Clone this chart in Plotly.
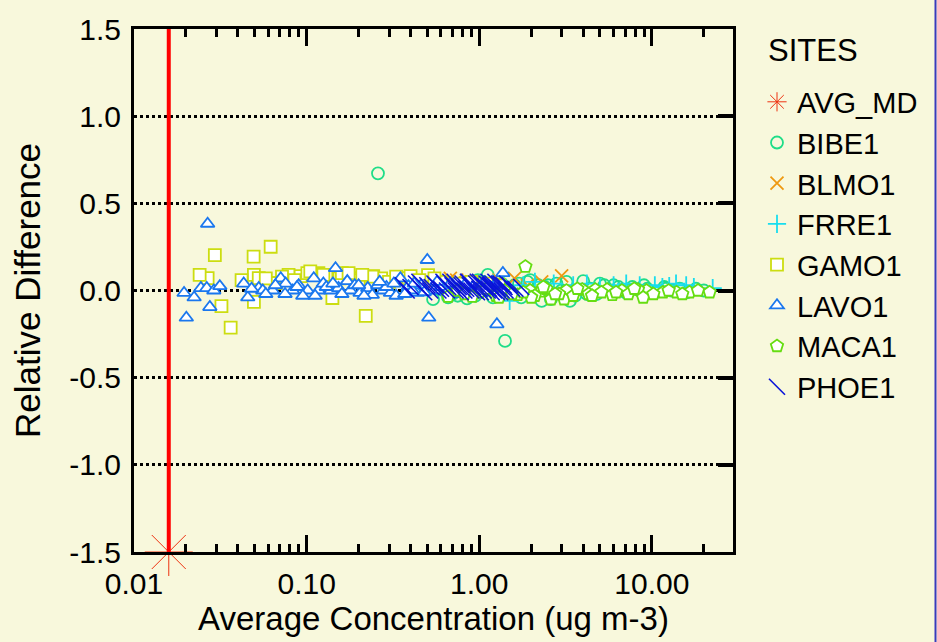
import plotly.graph_objects as go

# ---------------- data ----------------
avg_md_x = [0.0159]
avg_md_y = [-1.5]
mdl_line_y = [-1.5, 1.5]

bibe_x = [0.259, 1.41, 0.54, 0.62, 0.7, 0.8, 0.88, 0.95, 1.05, 1.12, 1.15, 1.25, 1.35, 1.5, 1.6,
          1.75, 1.9, 1.97, 2.05, 2.2, 2.4, 2.6, 2.8, 3.0, 3.35, 3.6, 4.0, 4.4, 4.8, 5.3, 5.8,
          6.4, 7.0, 7.7, 8.5, 9.4, 10.5, 11.8, 13.0, 14.5, 16.0, 18.0, 20.0, 2.3, 1.2, 0.66, 0.85,
          0.58, 0.75, 0.98, 1.3, 1.7, 2.5, 3.2, 4.2, 5.0, 6.0, 7.3, 9.0, 12.0]
bibe_y = [0.672, -0.289, -0.05, 0.03, -0.02, 0.04, 0.01, -0.03, 0.05, 0.09, 0.02, -0.02, 0.04, 0.0, 0.03,
          -0.04, 0.05, 0.06, -0.01, 0.03, 0.02, -0.05, 0.04, 0.0, -0.06, -0.03, 0.054, 0.01, -0.02, 0.03, 0.0,
          0.02, -0.01, 0.02, 0.0, 0.01, -0.01, 0.02, 0.0, 0.01, -0.01, 0.01, 0.0, -0.06, -0.04, -0.04, -0.045,
          0.01, -0.03, 0.06, 0.05, 0.04, 0.03, 0.05, -0.02, 0.04, 0.03, 0.0, 0.03, 0.01]

blmo_x = [3.0, 0.68, 0.74, 0.9, 1.1, 1.3, 1.6, 1.9, 2.3, 0.55]
blmo_y = [0.084, 0.07, 0.06, 0.05, 0.04, 0.06, 0.07, 0.03, 0.05, 0.05]

frre_x = [22.5, 15.8, 12.6, 10.4, 8.5, 7.1, 1.5, 6.0, 5.0, 4.2, 3.5, 2.7, 2.1, 1.8, 1.2, 17.5, 13.8, 11.5]
frre_y = [0.014, 0.03, 0.025, 0.03, 0.03, 0.04, -0.06, 0.03, 0.02, 0.04, 0.03, 0.04, 0.05, 0.03, 0.04, 0.02, 0.04, 0.02]

gamo_x = [0.0267, 0.0294, 0.0321, 0.0363, 0.0493, 0.0495, 0.0495, 0.0528, 0.0619, 0.0662, 0.0786,
          0.0923, 0.101, 0.117, 0.141, 0.186, 0.22, 0.243, 0.363, 0.40, 0.505, 0.024, 0.042, 0.058,
          0.072, 0.085, 0.13, 0.155, 0.2, 0.27, 0.3, 0.45, 0.6, 0.75, 0.9, 1.1, 1.3, 0.16, 0.24,
          0.105, 0.125, 0.175, 0.21, 0.33, 0.55]
gamo_y = [0.071, 0.203, -0.09, -0.213, 0.194, 0.09, -0.065, 0.071, 0.251, 0.043, 0.09,
          0.082, 0.1, 0.1, -0.043, 0.071, -0.145, 0.082, 0.071, 0.082, 0.088, 0.09, 0.06, 0.07,
          0.08, 0.06, 0.09, 0.07, 0.06, 0.07, 0.05, 0.06, 0.05, 0.04, 0.05, 0.04, 0.03, 0.1, 0.08,
          0.11, 0.09, 0.1, 0.09, 0.08, 0.07]

lavo_x = [0.0195, 0.0201, 0.0223, 0.0244, 0.0264, 0.0267, 0.0275, 0.029, 0.0314, 0.0432, 0.0456,
          0.0528, 0.0557, 0.0636, 0.0708, 0.0756, 0.0831, 0.0899, 0.1014, 0.110, 0.117, 0.125,
          0.138, 0.147, 0.153, 0.172, 0.179, 0.204, 0.226, 0.258, 0.278, 0.306, 0.349, 0.388,
          0.389, 0.437, 0.50, 0.51, 0.46, 0.55, 0.60, 0.65, 0.70, 0.78, 0.85, 0.92, 1.0, 1.08,
          1.15, 1.265, 1.37, 1.45, 0.058, 0.066, 0.095, 0.13, 0.16, 0.19, 0.24, 0.29, 0.33, 0.41,
          0.048, 0.075, 0.088, 0.112, 0.142, 0.2, 0.215, 0.265, 0.32, 0.37, 0.42, 0.48, 0.57,
          0.68, 0.74, 0.82, 0.96, 1.05, 1.2, 1.3]
lavo_y = [-0.014, -0.156, -0.04, 0.014, 0.014, 0.383, -0.095, 0.0, 0.025, 0.04, -0.04,
          0.014, 0.0, 0.0, 0.07, 0.04, 0.0, 0.03, 0.0, 0.07, 0.0, 0.04,
          0.0, 0.128, 0.014, 0.054, 0.0, -0.014, 0.014, 0.03, 0.0, -0.014, 0.07, 0.014,
          0.025, -0.014, 0.175, -0.156, 0.03, 0.0, 0.02, -0.01, 0.03, 0.01, -0.02, 0.02, 0.0, 0.03,
          -0.01, -0.194, 0.1, 0.01, -0.02, 0.03, -0.03, 0.02, -0.02, 0.03, -0.025, 0.02, -0.03, 0.0,
          0.01, -0.02, 0.02, -0.03, 0.04, 0.03, -0.03, 0.05, 0.04, -0.02, 0.04, -0.01, 0.05,
          0.04, -0.02, 0.03, -0.02, 0.04, 0.02, -0.01]

maca_x = [1.85, 21.6, 16.5, 13.9, 11.6, 9.3, 8.3, 6.7, 5.5, 4.7, 3.95, 3.2, 3.1, 2.6, 2.25, 1.97,
          1.67, 1.0, 0.91, 0.66, 8.9, 5.9, 0.75, 0.82, 1.1, 1.25, 1.4, 1.55, 2.1, 2.45, 2.9, 3.5,
          4.3, 5.1, 7.3, 10.2, 12.5, 15.0, 18.5, 7.9, 2.0, 2.75, 3.7, 4.5, 6.2, 1.8, 1.3, 2.35]
maca_y = [0.137, -0.01, -0.01, -0.01, -0.01, 0.0, 0.005, 0.0, 0.005, 0.005, 0.005, 0.0, -0.05, -0.05, -0.005, 0.0,
          -0.025, -0.01, -0.035, -0.035, -0.04, -0.025, 0.0, -0.02, 0.01, -0.03, 0.0, -0.02, -0.03, 0.01, -0.02, -0.03,
          -0.02, -0.01, -0.02, -0.02, 0.0, -0.02, 0.0, 0.01, -0.04, -0.02, 0.01, -0.03, -0.01, -0.01, -0.04, 0.02]

phoe_x = [0.36, 0.4, 0.43, 0.46, 0.5, 0.53, 0.56, 0.6, 0.63, 0.66, 0.7, 0.73, 0.76, 0.8, 0.84, 0.88,
          0.92, 0.96, 1.0, 1.04, 1.08, 1.12, 1.16, 1.2, 1.25, 1.3, 1.35, 1.4, 1.5, 1.62, 1.75, 0.48,
          0.58, 0.68, 0.78, 0.9, 1.02, 1.14, 1.22, 1.32, 0.98, 1.1, 1.18, 1.28, 1.38, 0.86,
          0.38, 0.45, 0.52, 0.55, 0.62, 0.65, 0.72, 0.75, 0.82, 0.87, 0.94, 1.01, 1.06, 1.13,
          1.19, 1.24, 1.27, 1.33, 1.42, 1.45, 1.55, 0.79, 0.97, 1.09, 1.15]
phoe_y = [0.03, 0.02, 0.04, 0.01, 0.03, 0.02, 0.03, 0.01, 0.04, 0.02, 0.03, 0.0, 0.02, 0.04, 0.01, 0.03,
          0.02, 0.04, 0.01, 0.03, 0.02, 0.0, 0.03, 0.01, 0.02, 0.04, 0.0, 0.02, 0.03, 0.01, 0.02, -0.01,
          0.0, 0.05, -0.01, 0.0, -0.01, 0.01, 0.0, -0.01, 0.05, 0.04, -0.01, 0.01, 0.03, 0.05,
          0.0, 0.05, 0.0, 0.04, 0.05, 0.0, 0.05, 0.01, 0.0, 0.05, 0.0, 0.05, 0.0, 0.05,
          0.04, 0.05, -0.01, 0.04, 0.0, 0.04, 0.01, 0.03, -0.01, 0.02, 0.03]

x_tickvals = [0.01, 0.1, 1, 10]
x_ticktext = ["0.01", "0.10", "1.00", "10.00"]
x_minor_tickvals = [0.02, 0.03, 0.04, 0.05, 0.06, 0.07, 0.08, 0.09,
                    0.2, 0.3, 0.4, 0.5, 0.6, 0.7, 0.8, 0.9,
                    2, 3, 4, 5, 6, 7, 8, 9, 20]
y_tickvals = [-1.5, -1.0, -0.5, 0.0, 0.5, 1.0, 1.5]
y_ticktext = ["-1.5", "-1.0", "-0.5", "0.0", "0.5", "1.0", "1.5"]

# ---------------- figure ----------------
BG = "#F8F8DC"
FONT = "Liberation Sans, Arial, sans-serif"
L_PX, T_PX, W_PX, H_PX = 134, 23, 599, 529
X_RANGE = [-2, 1.4698]
Y_RANGE = [-1.5, 1.5]

def px_x(p):
    return (p - L_PX) / W_PX

def px_y(p):
    return 1 - (p - T_PX) / H_PX

fig = go.Figure()

# MDL vertical line (on the overlaid right-hand y axis, same range)
fig.add_trace(go.Scatter(x=[avg_md_x[0], avg_md_x[0]], y=mdl_line_y, mode="lines", yaxis="y2",
                         line=dict(color="#FF0000", width=4), showlegend=False, hoverinfo="skip"))

def add_series(name, xs, ys, symbol, color, size, fill=None, lw=1.8, clip=True):
    fig.add_trace(go.Scatter(
        x=xs, y=ys, mode="markers", name=name, cliponaxis=clip,
        marker=dict(symbol=symbol, size=size, color=fill if fill else color,
                    line=dict(color=color, width=lw))))

add_series("AVG_MD", avg_md_x, avg_md_y, "asterisk-open", "#EE3311", 40, lw=1, clip=False)
add_series("BIBE1", bibe_x, bibe_y, "circle-open", "#1FDD88", 12)
add_series("BLMO1", blmo_x, blmo_y, "x-thin-open", "#EE9911", 13)
add_series("FRRE1", frre_x, frre_y, "cross-thin-open", "#18DDEE", 13)
add_series("GAMO1", gamo_x, gamo_y, "square", "#CCDD11", 12, fill="white")
add_series("LAVO1", lavo_x, lavo_y, "triangle-up", "#1A77EE", 12, fill="white")
add_series("MACA1", maca_x, maca_y, "pentagon", "#66DD11", 13, fill="white")
add_series("PHOE1", phoe_x, phoe_y, "line-nw-open", "#0A14D9", 16, lw=1.6)

fig.update_layout(
    width=937, height=642,
    margin=dict(l=L_PX, r=937 - L_PX - W_PX, t=T_PX, b=642 - T_PX - H_PX),
    paper_bgcolor=BG, plot_bgcolor=BG,
    font=dict(family=FONT, color="black", size=29),
    showlegend=True,
    legend=dict(x=px_x(757), y=px_y(71), xanchor="left", yanchor="top",
                bgcolor="rgba(0,0,0,0)", font=dict(size=29, family=FONT, color="black")),
    annotations=[dict(text="SITES", xref="paper", yref="paper", x=px_x(766), y=px_y(45),
                      xanchor="left", yanchor="middle", showarrow=False,
                      font=dict(size=31, family=FONT, color="black"))],
    shapes=[dict(type="line", xref="paper", yref="paper",
                 x0=px_x(935.5), x1=px_x(935.5), y0=-0.3, y1=1.2,
                 line=dict(color="#3A3ABB", width=2))],
)

fig.update_xaxes(
    type="log", range=X_RANGE,
    tickvals=x_tickvals, ticktext=x_ticktext,
    ticks="inside", ticklen=17, tickwidth=3, tickcolor="black",
    minor=dict(tickvals=x_minor_tickvals, ticks="inside", ticklen=8,
               tickwidth=3, tickcolor="black", showgrid=False),
    showline=True, linewidth=3, linecolor="black", mirror="ticks",
    showgrid=False, zeroline=False,
    tickfont=dict(size=30), ticklabelstandoff=3,
    title=dict(text="Average Concentration (ug m-3)", font=dict(size=33), standoff=4),
)
fig.update_layout(
    yaxis=dict(
        range=Y_RANGE, tickvals=y_tickvals, ticktext=y_ticktext,
        ticks="", showline=True, linewidth=3, linecolor="black", mirror=True,
        showgrid=True, gridcolor="black", gridwidth=3, griddash="dot", zeroline=False,
        tickfont=dict(size=30), ticklabelstandoff=4,
        title=dict(text="Relative Difference", font=dict(size=35), standoff=19)),
    yaxis2=dict(
        overlaying="y", side="right", range=Y_RANGE, tickvals=y_tickvals[1:-1],
        ticks="inside", ticklen=15, tickwidth=4, tickcolor="black",
        showticklabels=False, showgrid=False, zeroline=False, showline=False),
)

fig.write_html("out.html")
